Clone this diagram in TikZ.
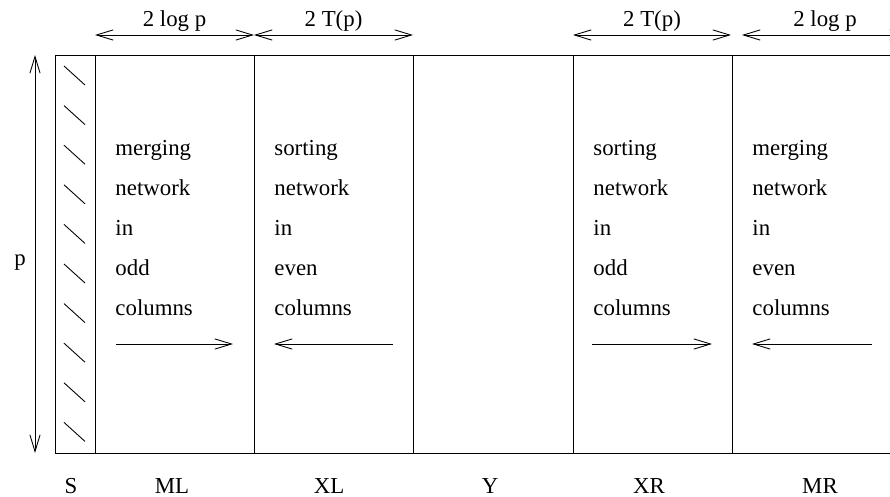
\documentclass[tikz,border=0pt]{standalone}
\usepackage{fontspec}
\setmainfont{Liberation Serif}
\usetikzlibrary{arrows.meta}

\begin{document}
\begin{tikzpicture}[x=0.02cm,y=-0.02cm,line width=0.5pt,
    >={Straight Barb[length=9.5pt,width=5.8pt]},
    font=\fontsize{13}{15}\selectfont,
    txt/.style={anchor=base west,inner sep=0pt},
    lab/.style={anchor=base,inner sep=0pt}]
  \useasboundingbox (0,0) rectangle (890,497);
  % frame and column borders
  \foreach \n/\x in {s/55,sml/95,mlxl/254,xly/413,yxr/573,xrmr/732,r/893} {
    \coordinate (\n-t) at (\x,55);
    \coordinate (\n-b) at (\x,453);
  }
  \draw (s-t) rectangle (r-b);
  \foreach \n in {sml,mlxl,xly,yxr,xrmr}
    \draw (\n-t) -- (\n-b);
  % hatching of S
  \foreach \i in {0,...,9}
    \draw (64,66+39.6*\i) -- (85,85+39.6*\i);
  % height p
  \coordinate (ptop) at (35,55);
  \coordinate (pbot) at (35,453);
  \draw[<->] (ptop) -- (pbot);
  \node[lab] (p) at (20,265) {p};
  % widths
  \foreach \a/\b/\t [count=\i] in {95/254/2 log p,254/413/2 T(p),573/731/2 T(p),742/908/2 log p} {
    \coordinate (w\i a) at (\a,35);
    \coordinate (w\i b) at (\b,35);
    \draw[<->] (w\i a) -- node[lab,yshift=5.1pt] (wl\i) {\t} (w\i b);
  }
  % column texts
  \foreach \c/\x/\ta/\tb in {ml/115/merging/odd,xl/274/sorting/even,xr/593/sorting/odd,mr/752/merging/even}
    \foreach \w [count=\i] in {\ta,network,in,\tb,columns}
      \node[txt] (\c\i) at (\x,115+40*\i) {\w};
  % directions
  \foreach \c/\a/\b in {ml/116/233,xl/393/274,xr/592/712,mr/872/752} {
    \coordinate (\c-from) at (\a,344);
    \coordinate (\c-to) at (\b,344);
    \draw[->] (\c-from) -- (\c-to);
  }
  % column names
  \foreach \n/\x in {S/71,ML/172,XL/329,Y/490,XR/649,MR/820}
    \node[lab] (n\n) at (\x,493) {\n};
\end{tikzpicture}
\end{document}
